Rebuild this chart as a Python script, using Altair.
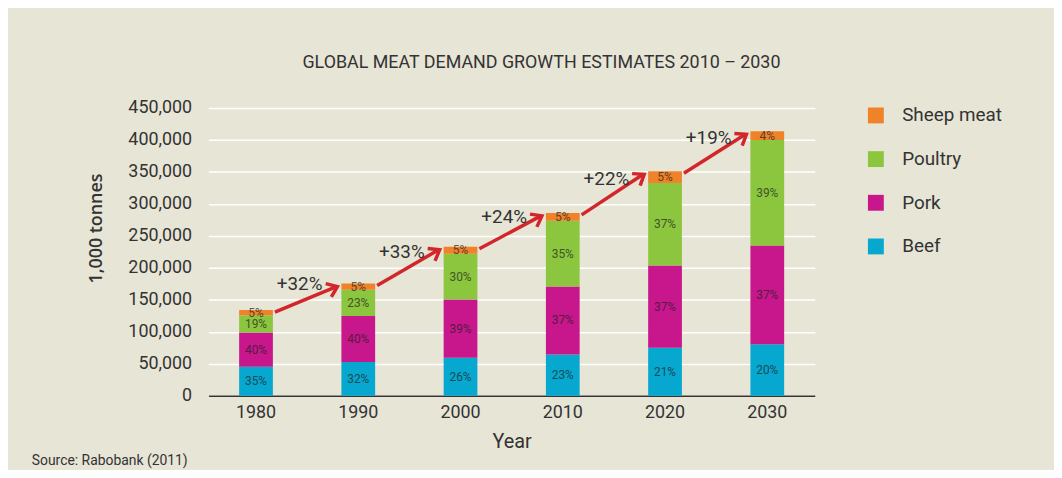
import math
import altair as alt
import pandas as pd

# ---- data (1,000 tonnes) ----
years = ["1980", "1990", "2000", "2010", "2020", "2030"]
beef = [45500, 53000, 59500, 64700, 75000, 80700]
pork = [53500, 71700, 91100, 106300, 128900, 154300]
poultry = [27000, 41300, 71400, 102800, 128900, 165000]
sheep = [8000, 9500, 11000, 12200, 18200, 13500]

beef_pct = ["35%", "32%", "26%", "23%", "21%", "20%"]
pork_pct = ["40%", "40%", "39%", "37%", "37%", "37%"]
poultry_pct = ["19%", "23%", "30%", "35%", "37%", "39%"]
sheep_pct = ["5%", "5%", "5%", "5%", "5%", "4%"]

growth = ["+32%", "+33%", "+24%", "+22%", "+19%"]
y_ticks = [0, 50000, 100000, 150000, 200000, 250000, 300000, 350000, 400000, 450000]

meats = ["Sheep meat", "Poultry", "Pork", "Beef"]
colors = ["#f0822a", "#8cc63e", "#c8168c", "#06a8cf"]

FONT = "Roboto"
TXT = "#333333"
BG = "#e7e5d6"

PLOT_W, PLOT_H = 611, 290
YMAX = 450000

# ---- tables ----
rows = []
series = [("Beef", beef, beef_pct, 0), ("Pork", pork, pork_pct, 1),
          ("Poultry", poultry, poultry_pct, 2), ("Sheep meat", sheep, sheep_pct, 3)]
cum = [0] * len(years)
for name, vals, pcts, order in series:
    for i, y in enumerate(years):
        rows.append({"year": y, "meat": name, "value": vals[i], "pct": pcts[i],
                     "ord": order, "mid": cum[i] + vals[i] / 2})
        cum[i] += vals[i]
df = pd.DataFrame(rows)
totals = cum

arr = []
for i in range(len(years) - 1):
    dx = 103 - 19 - 21
    dy = (totals[i + 1] - totals[i]) * PLOT_H / YMAX
    ang = (360 - math.degrees(math.atan2(dy, dx))) % 360
    arr.append({"year": years[i], "year_next": years[i + 1],
                "total": totals[i], "total_next": totals[i + 1],
                "midtot": (totals[i] + totals[i + 1]) / 2,
                "label": growth[i], "angle": ang})
adf = pd.DataFrame(arr)

xscale = alt.Scale(domain=years, paddingInner=0.67, paddingOuter=0.30)
yscale = alt.Scale(domain=[0, YMAX], nice=False)

x_axis = alt.Axis(title="Year", labelAngle=0, labelFontSize=18, labelColor=TXT,
                  labelFont=FONT, labelPadding=8, ticks=False,
                  domainColor="#333333", domainWidth=1.5,
                  titleFont=FONT, titleFontSize=20, titleFontWeight="normal",
                  titleColor=TXT, titlePadding=10)
y_axis = alt.Axis(title="1,000 tonnes", values=y_ticks,
                  format=",d", labelOverlap=False,
                  labelFontSize=18, labelFont=FONT, labelColor=TXT,
                  labelPadding=17, ticks=False, domain=False,
                  grid=True, gridColor="#ffffff", gridWidth=1.5,
                  titleFont="Open Sans", titleFontSize=18, titleFontWeight=600,
                  titleColor=TXT, titleAngle=270, titleAlign="center",
                  titleBaseline="middle", titleX=-113, titleY=121)


def X(field):
    return alt.X(field, type="nominal", scale=xscale, sort=years, axis=x_axis)


def Y(field, **kw):
    return alt.Y(field, type="quantitative", scale=yscale, axis=y_axis, **kw)


bars = alt.Chart(df).mark_bar().encode(
    x=X("year"),
    y=Y("value", stack="zero"),
    color=alt.Color("meat:N", scale=alt.Scale(domain=meats, range=colors),
                    legend=alt.Legend(title=None, orient="none", legendX=663, legendY=-2,
                                      symbolType="square", symbolSize=256,
                                      symbolStrokeWidth=0, symbolOpacity=1,
                                      labelFont=FONT, labelFontSize=19, labelColor=TXT,
                                      labelOffset=17, rowPadding=24, padding=0)),
    order=alt.Order("ord:Q", sort="ascending"),
)

seg_text = alt.Chart(df).mark_text(font=FONT, fontSize=12, color="#222222",
                                   opacity=0.7, baseline="middle").encode(
    x=X("year"),
    y=Y("mid"),
    text="pct:N",
)

arrows = alt.Chart(adf).mark_rule(color="#d3262b", strokeWidth=3.5, xOffset=19,
                                  x2Offset=-22, yOffset=2, y2Offset=3).encode(
    x=X("year"),
    x2="year_next:N",
    y=Y("total"),
    y2="total_next:Q",
)

heads = alt.Chart(adf).mark_point(shape="M -1 -0.75 L 0 0 L -1 0.75", filled=False,
                                  color="#d3262b", strokeWidth=3.5, size=380,
                                  opacity=1, xOffset=-21, yOffset=3,
                                  strokeJoin="miter").encode(
    x=X("year_next"),
    y=Y("total_next"),
    angle=alt.Angle("angle:Q", scale=None),
)

growth_text = alt.Chart(adf).mark_text(font=FONT, fontSize=19, color=TXT,
                                       xOffset=44, dy=-13, baseline="middle").encode(
    x=X("year"),
    y=Y("midtot"),
    text="label:N",
)

source = alt.Chart(pd.DataFrame({"t": ["Source: Rabobank (2011)"]})).mark_text(
    font=FONT, fontSize=14, color=TXT, align="left", baseline="middle").encode(
    x=alt.value(-178), y=alt.value(356), text="t:N")

chart = alt.layer(bars, seg_text, arrows, heads, growth_text, source).properties(
    width=PLOT_W, height=PLOT_H,
    autosize=alt.AutoSizeParams(type="none"),
    padding={"left": 202, "top": 99, "right": 241, "bottom": 73},
    background=BG,
    title=alt.TitleParams("GLOBAL MEAT DEMAND GROWTH ESTIMATES 2010 – 2030",
                          font=FONT, fontSize=18, fontWeight="normal", color=TXT,
                          anchor="middle", frame="group", dx=30, offset=27),
).configure_view(stroke=None)

chart.save("out.html", embed_options={"renderer": "svg", "actions": False})
